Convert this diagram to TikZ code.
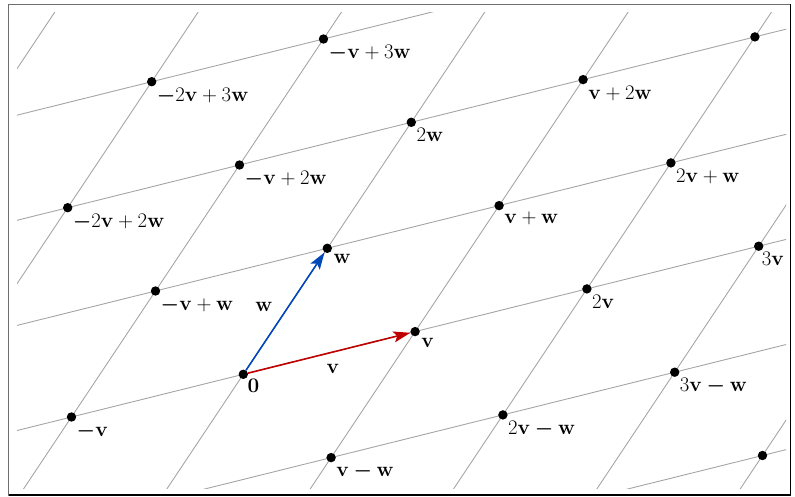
\documentclass[tikz,border=0pt]{standalone}
\usepackage{bm}
\usetikzlibrary{arrows.meta,calc}
\definecolor{gridgray}{RGB}{165,165,165}
\definecolor{vred}{RGB}{190,0,0}
\definecolor{wblue}{RGB}{0,72,184}
\definecolor{framegray}{RGB}{110,110,110}
\newcommand{\bv}{\mathbf{v}}
\newcommand{\bw}{\mathbf{w}}
\newcommand{\bmn}{\bm{-}}
\begin{document}
\begin{tikzpicture}[x=1pt,y=-1pt,
  font=\fontsize{20.5}{24}\selectfont,
  lbl/.style={anchor=north west, inner sep=0pt},
  dot/.style={circle, fill=black, inner sep=0pt, minimum size=9.4pt},
  gridline/.style={draw=gridgray, line width=0.9pt},
  vec/.style={line width=1.6pt, -{Stealth[length=17pt,width=11pt,inset=3.5pt]}}]
\useasboundingbox (0,0) rectangle (795,497);
% grid
\begin{scope}
\clip (17,13) rectangle (786,488);
\foreach \k in {-7,...,7} {
  \draw[gridline] ({243.3+(\k)*84-1718}, {374.3-(\k)*126+427}) -- ({243.3+(\k)*84+1718}, {374.3-(\k)*126-427});
  \draw[gridline] ({243.3+(\k)*171.8-840}, {374.3-(\k)*42.7+1260}) -- ({243.3+(\k)*171.8+840}, {374.3-(\k)*42.7-1260});
}
\end{scope}
% lattice points
\foreach \a/\b/\nm in {0/0/O, 1/0/V, 0/1/W, 2/0/V2, 3/0/V3, -1/0/Vm, 1/1/VW, 0/2/W2, -1/3/Pa, -2/3/Pb,
  1/-1/Pc, 2/-1/Pd, 3/-1/Pe, 4/-2/Pf, 2/2/Pg, 1/2/Ph, 2/1/Pi, -1/2/Pj, -2/2/Pk, -1/1/Pl} {
  \node[dot] (\nm) at ({243.3+(\a)*171.8+(\b)*84}, {374.3-(\a)*42.7-(\b)*126}) {};
}
% vectors
\draw[vec, vred] (O) -- (V);
\draw[vec, wblue] (O) -- (W);
\node (lw) at (264,307) {$\bw$};
\node (lv) at (333,369) {$\bv$};
% labels
\node[lbl] (tO) at ($(O)+(4,5)$) {$\mathbf{0}$};
\node[lbl] (tV) at ($(V)+(6,6)$) {$\bv$};
\node[lbl] (tW) at ($(W)+(6,6)$) {$\bw$};
\node[lbl] (tV2) at ($(V2)+(5,6)$) {$2\bv$};
\node[lbl] (tV3) at ($(V3)+(3,6)$) {$3\bv$};
\node[lbl] (tVm) at ($(Vm)+(5,6)$) {$\bmn\bv$};
\node[lbl] (tVW) at ($(VW)+(5,6)$) {$\bv+\bw$};
\node[lbl] (tW2) at ($(W2)+(5,6)$) {$2\bw$};
\node[lbl] (tPa) at ($(Pa)+(5,6)$) {$\bmn\bv+3\bw$};
\node[lbl] (tPb) at ($(Pb)+(5,6)$) {$\bmn2\bv+3\bw$};
\node[lbl] (tPc) at ($(Pc)+(5,6)$) {$\bv\bmn\bw$};
\node[lbl] (tPd) at ($(Pd)+(5,6)$) {$2\bv\bmn\bw$};
\node[lbl] (tPe) at ($(Pe)+(5,6)$) {$3\bv\bmn\bw$};
\node[lbl] (tPh) at ($(Ph)+(5,6)$) {$\bv+2\bw$};
\node[lbl] (tPi) at ($(Pi)+(5,6)$) {$2\bv+\bw$};
\node[lbl] (tPj) at ($(Pj)+(5,6)$) {$\bmn\bv+2\bw$};
\node[lbl] (tPk) at ($(Pk)+(5,6)$) {$\bmn2\bv+2\bw$};
\node[lbl] (tPl) at ($(Pl)+(5,6)$) {$\bmn\bv+\bw$};
% frame
\draw[framegray, line width=1.5pt] (8.5,4.5) rectangle (790.5,494.8);
\draw[black, line width=1.5pt] (790.5,4.5) -- (790.5,494.8) -- (8.5,494.8);
\end{tikzpicture}
\end{document}
